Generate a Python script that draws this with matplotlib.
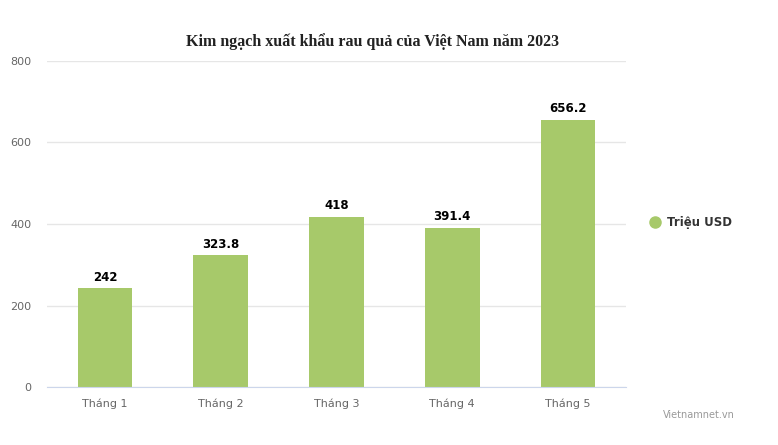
import matplotlib
matplotlib.use("Agg")
import matplotlib.pyplot as plt
from matplotlib.lines import Line2D

# ---------------------------------------------------------------------------
# Data
# ---------------------------------------------------------------------------
months = ["Tháng 1", "Tháng 2", "Tháng 3", "Tháng 4", "Tháng 5"]
values = [242, 323.8, 418, 391.4, 656.2]
labels = ["242", "323.8", "418", "391.4", "656.2"]
yticks = [0, 200, 400, 600, 800]

BAR_COLOR = "#a7c96a"

plt.rcParams['font.family'] = ['DejaVu Sans']

fig = plt.figure(figsize=(7.78, 4.45), dpi=100)
ax = fig.add_axes([47 / 778, 58 / 445, 579 / 778, 326 / 445])

x = range(len(months))
bars = ax.bar(x, values, width=0.47, color=BAR_COLOR, zorder=3)

for b, lab in zip(bars, labels):
    ax.annotate(lab, (b.get_x() + b.get_width() / 2, b.get_height()),
                xytext=(0, 3), textcoords="offset points",
                ha="center", va="bottom", fontsize=8.5, fontweight="bold",
                color="#000000")

ax.set_xlim(-0.5, len(months) - 0.5)
ax.set_ylim(0, 800)
ax.set_yticks(yticks)
ax.set_xticks(list(x))
ax.set_xticklabels(months)
ax.tick_params(axis="both", length=0, labelsize=8, labelcolor="#666666")
ax.tick_params(axis="x", pad=8)
ax.tick_params(axis="y", pad=11)

ax.grid(axis="y", color="#e6e6e6", linewidth=1, zorder=0)
for side in ["top", "right", "left"]:
    ax.spines[side].set_visible(False)
ax.spines["bottom"].set_color("#ccd6eb")
ax.spines["bottom"].set_zorder(4)

fig.text(373 / 778, 1 - 42 / 445, "Kim ngạch xuất khẩu rau quả của Việt Nam năm 2023",
         ha="center", va="center", fontsize=11.5, fontweight="bold",
         family="Liberation Serif", color="#222222")

# legend
fig.add_artist(Line2D([655 / 778], [1 - 222 / 445], marker="o", markersize=8,
                      color=BAR_COLOR, linestyle="none", transform=fig.transFigure))
fig.text(667 / 778, 1 - 222 / 445, "Triệu USD", ha="left", va="center",
         fontsize=8.5, fontweight="bold", color="#333333")

fig.text(735 / 778, 1 - 415 / 445, "Vietnamnet.vn", ha="right", va="center",
         fontsize=7, color="#999999")

fig.savefig("out.png", dpi=100)
